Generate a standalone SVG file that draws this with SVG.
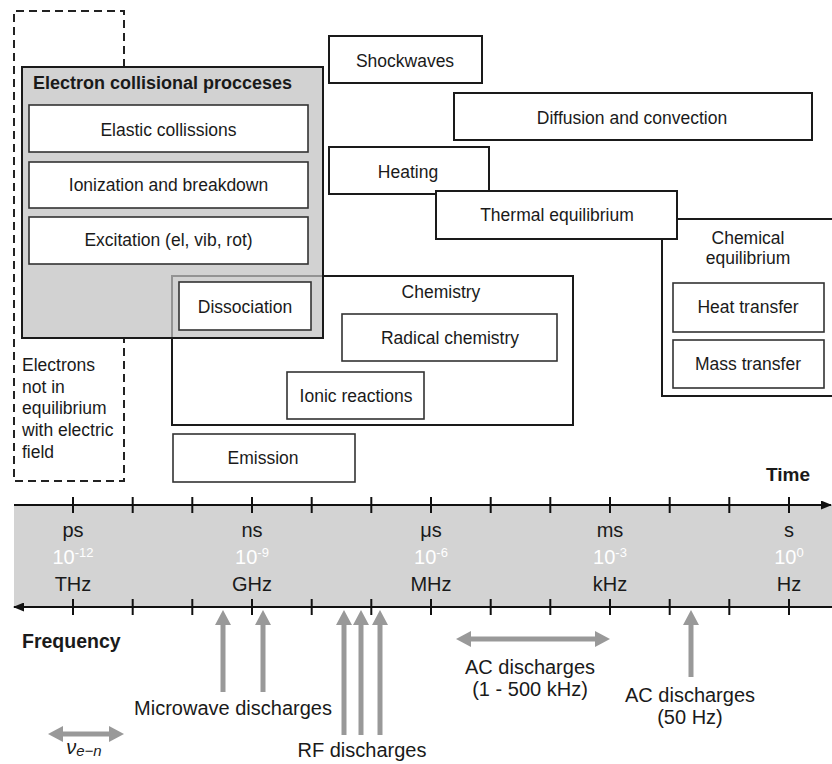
<svg xmlns="http://www.w3.org/2000/svg" width="832" height="764" viewBox="0 0 832 764">
<defs>
<style>
text{font-family:"Liberation Sans",Arial,sans-serif;fill:#1a1a1a}
.n{font-size:17.5px;text-anchor:middle}
.b{font-weight:bold}
.box{fill:#fff;stroke:#1a1a1a;stroke-width:2}
.ibox{fill:#fff;stroke:#333;stroke-width:1.6}
.tl{font-size:20px;text-anchor:middle}
.w{fill:#fff}
.lab{font-size:20px;text-anchor:middle}
.tick{stroke:#111;stroke-width:2}
.garr{stroke:#999;stroke-width:5;fill:none}
</style>
<marker id="gh" viewBox="0 0 15 16" refX="2" refY="8" markerWidth="15" markerHeight="16" markerUnits="userSpaceOnUse" orient="auto-start-reverse">
<path d="M0,0 L15,8 L0,16 z" fill="#999"/>
</marker>
<marker id="bh" viewBox="0 0 11 9" refX="10" refY="4.5" markerWidth="11" markerHeight="9" markerUnits="userSpaceOnUse" orient="auto">
<path d="M0,0 L11,4.5 L0,9 z" fill="#111"/>
</marker>
</defs>
<rect width="832" height="764" fill="#fff"/>

<g id="electrons-not-in-equilibrium">
<path d="M124,67 V11 H14 V481 H124 V338" fill="none" stroke="#222" stroke-width="2" stroke-dasharray="8,5"/>
<text x="22" y="371" font-size="17.5">Electrons</text>
<text x="22" y="393" font-size="17.5">not in</text>
<text x="22" y="414" font-size="17.5">equilibrium</text>
<text x="22" y="436" font-size="17.5">with electric</text>
<text x="22" y="458" font-size="17.5">field</text>
</g>

<g id="chemistry">
<rect class="box" x="172" y="276" width="401" height="149"/>
<text class="n" x="441" y="298">Chemistry</text>
</g>

<g id="electron-collisional">
<rect x="22" y="67" width="301" height="271" fill="rgb(193,193,193)" fill-opacity="0.725" stroke="#1a1a1a" stroke-width="2"/>
<text class="b" x="33" y="89" font-size="18">Electron collisional procceses</text>
</g>
<g id="elastic"><rect class="ibox" x="29" y="105" width="279" height="47"/><text class="n" x="168.5" y="136">Elastic collissions</text></g>
<g id="ionization"><rect class="ibox" x="29" y="162" width="279" height="46"/><text class="n" x="168.5" y="191">Ionization and breakdown</text></g>
<g id="excitation"><rect class="ibox" x="29" y="217" width="279" height="47"/><text class="n" x="168.5" y="246">Excitation (el, vib, rot)</text></g>
<g id="dissociation"><rect class="ibox" x="179" y="282" width="132" height="48"/><text class="n" x="245" y="313">Dissociation</text></g>
<g id="radical"><rect class="ibox" x="342" y="314" width="215" height="47"/><text class="n" x="450" y="344">Radical chemistry</text></g>
<g id="ionic"><rect class="ibox" x="287" y="372" width="137" height="47"/><text class="n" x="356" y="402">Ionic reactions</text></g>
<g id="emission"><rect class="ibox" x="173" y="434" width="182" height="48"/><text class="n" x="263" y="464">Emission</text></g>

<g id="shockwaves"><rect class="box" x="329" y="36" width="153" height="47"/><text class="n" x="405" y="67">Shockwaves</text></g>
<g id="diffusion"><rect class="box" x="454" y="93" width="358" height="47"/><text class="n" x="632" y="124">Diffusion and convection</text></g>
<g id="heating"><rect class="box" x="329" y="147" width="160" height="47"/><text class="n" x="408" y="178">Heating</text></g>
<g id="chemical-equilibrium">
<rect class="box" x="662" y="219" width="180" height="177"/>
<text class="n" x="748" y="244">Chemical</text>
<text class="n" x="748" y="264">equilibrium</text>
</g>
<g id="thermal"><rect class="box" x="436" y="191" width="241" height="48"/><text class="n" x="557" y="221">Thermal equilibrium</text></g>
<g id="heat-transfer"><rect class="ibox" x="673" y="283" width="151" height="49"/><text class="n" x="748" y="313">Heat transfer</text></g>
<g id="mass-transfer"><rect class="ibox" x="673" y="340" width="151" height="48"/><text class="n" x="748" y="370">Mass transfer</text></g>

<g id="timeline">
<rect x="14" y="505" width="820" height="102" fill="#d3d3d3"/>
<line x1="14" y1="505" x2="831" y2="505" stroke="#111" stroke-width="2" marker-end="url(#bh)"/>
<line x1="832" y1="607" x2="14" y2="607" stroke="#111" stroke-width="2" marker-end="url(#bh)"/>
<path class="tick" d="M73,497V513M132.7,497V513M192.3,497V513M252,497V513M311.7,497V513M371.3,497V513M431,497V513M490.7,497V513M550.3,497V513M610,497V513M669.7,497V513M729.3,497V513M789,497V513"/>
<path class="tick" d="M73,599V615M132.7,599V615M192.3,599V615M252,599V615M311.7,599V615M371.3,599V615M431,599V615M490.7,599V615M550.3,599V615M610,599V615M669.7,599V615M729.3,599V615M789,599V615"/>
<text class="tl" x="73" y="537">ps</text>
<text class="tl w" x="73" y="564">10<tspan font-size="13" dy="-7">-12</tspan></text>
<text class="tl" x="73" y="591">THz</text>
<text class="tl" x="252" y="537">ns</text>
<text class="tl w" x="252" y="564">10<tspan font-size="13" dy="-7">-9</tspan></text>
<text class="tl" x="252" y="591">GHz</text>
<text class="tl" x="431" y="537">μs</text>
<text class="tl w" x="431" y="564">10<tspan font-size="13" dy="-7">-6</tspan></text>
<text class="tl" x="431" y="591">MHz</text>
<text class="tl" x="610" y="537">ms</text>
<text class="tl w" x="610" y="564">10<tspan font-size="13" dy="-7">-3</tspan></text>
<text class="tl" x="610" y="591">kHz</text>
<text class="tl" x="789" y="537">s</text>
<text class="tl w" x="789" y="564">10<tspan font-size="13" dy="-7">0</tspan></text>
<text class="tl" x="789" y="591">Hz</text>
<text class="b" x="788" y="481" font-size="19" text-anchor="middle">Time</text>
<text class="b" x="22" y="648" font-size="19.5">Frequency</text>
</g>

<g id="connectors">
<line class="garr" x1="223" y1="692" x2="223" y2="623" marker-end="url(#gh)"/>
<line class="garr" x1="263" y1="692" x2="263" y2="623" marker-end="url(#gh)"/>
<line class="garr" x1="344" y1="735" x2="344" y2="623" marker-end="url(#gh)"/>
<line class="garr" x1="361" y1="735" x2="361" y2="623" marker-end="url(#gh)"/>
<line class="garr" x1="380" y1="735" x2="380" y2="623" marker-end="url(#gh)"/>
<line class="garr" x1="691" y1="677" x2="691" y2="623" marker-end="url(#gh)"/>
<line class="garr" x1="469" y1="639" x2="597" y2="639" marker-start="url(#gh)" marker-end="url(#gh)"/>
<line class="garr" x1="61" y1="734" x2="111" y2="734" marker-start="url(#gh)" marker-end="url(#gh)"/>
</g>

<g id="labels">
<text class="lab" x="233" y="715">Microwave discharges</text>
<text class="lab" x="362" y="757">RF discharges</text>
<text class="lab" x="530" y="674">AC discharges</text>
<text class="lab" x="530" y="696">(1 - 500 kHz)</text>
<text class="lab" x="690" y="702">AC discharges</text>
<text class="lab" x="690" y="724">(50 Hz)</text>
<text x="84" y="754" text-anchor="middle" font-family="'Liberation Serif',serif" font-style="italic" font-size="20" fill="#333">ν<tspan font-size="15" dy="2">e−n</tspan></text>
</g>
</svg>
